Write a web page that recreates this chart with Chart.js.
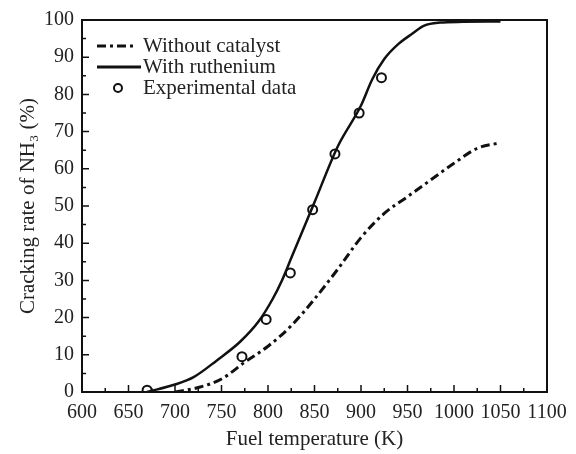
<!DOCTYPE html>
<html>
<head>
<meta charset="utf-8">
<script src="https://cdn.jsdelivr.net/npm/chart.js@4.4.1/dist/chart.umd.min.js"></script>
<style>
  html, body { margin: 0; padding: 0; background: #fff; }
  #wrap { width: 576px; height: 454px; }
</style>
</head>
<body>
<div id="wrap"><canvas id="chart" width="576" height="454"></canvas></div>
<script>
// --- data ---
const tempNoCat = [700, 725, 750, 775, 800, 825, 850, 875, 900, 925, 950, 975, 1000, 1025, 1050];
const rateNoCat = [0, 1.2, 3.5, 8, 12.3, 17.8, 25, 33, 41.5, 48, 52.5, 57, 61.5, 65.5, 67];

const tempRu = [670, 700, 720, 745, 770, 790, 805, 815, 825, 850, 875, 900, 912, 925, 940, 955, 968, 985, 1010, 1050];
const rateRu = [0, 2, 4, 8.5, 13.5, 19, 25, 30, 36, 51, 66, 77, 84, 89.5, 93.5, 96.3, 98.5, 99.3, 99.5, 99.6];

const tempExp = [670, 772, 798, 824, 848, 872, 898, 922];
const rateExp = [0.5, 9.5, 19.5, 32, 49, 64, 75, 84.5];

const xTicks = [600, 650, 700, 750, 800, 850, 900, 950, 1000, 1050, 1100];
const yTicks = [0, 10, 20, 30, 40, 50, 60, 70, 80, 90, 100];

const FONT = "'Liberation Serif', 'Times New Roman', serif";
const toXY = (xs, ys) => xs.map((x, i) => ({ x, y: ys[i] }));

// frame + inward ticks
const framePlugin = {
  id: 'frame',
  afterDraw(chart) {
    const { ctx, chartArea: a, scales: { x, y } } = chart;
    ctx.save();
    ctx.strokeStyle = '#111';
    ctx.lineWidth = 2;
    ctx.strokeRect(a.left, a.top, a.right - a.left, a.bottom - a.top);
    ctx.lineWidth = 1.5;
    ctx.beginPath();
    for (let v = xTicks[0]; v <= xTicks[xTicks.length - 1]; v += 25) {
      const px = x.getPixelForValue(v);
      const len = v % 50 === 0 ? 7 : 4;
      ctx.moveTo(px, a.bottom);
      ctx.lineTo(px, a.bottom - len);
    }
    for (let v = yTicks[0]; v <= yTicks[yTicks.length - 1]; v += 5) {
      const py = y.getPixelForValue(v);
      const len = v % 10 === 0 ? 7 : 4;
      ctx.moveTo(a.left, py);
      ctx.lineTo(a.left + len, py);
    }
    ctx.stroke();
    ctx.restore();
  }
};

// legend inside the plot, top left
const legendPlugin = {
  id: 'innerLegend',
  afterDraw(chart) {
    const { ctx } = chart;
    const rows = [
      { label: 'Without catalyst', kind: 'dash', y: 46 },
      { label: 'With ruthenium', kind: 'solid', y: 67 },
      { label: 'Experimental data', kind: 'circle', y: 88 }
    ];
    ctx.save();
    ctx.font = '21px ' + FONT;
    ctx.fillStyle = '#222';
    ctx.textBaseline = 'middle';
    rows.forEach(r => {
      ctx.strokeStyle = '#111';
      if (r.kind === 'circle') {
        ctx.lineWidth = 2;
        ctx.beginPath();
        ctx.arc(118, r.y, 4, 0, Math.PI * 2);
        ctx.fillStyle = '#fff';
        ctx.fill();
        ctx.stroke();
        ctx.fillStyle = '#222';
      } else {
        ctx.lineWidth = 3;
        ctx.setLineDash(r.kind === 'dash' ? [9, 4, 3, 4] : []);
        ctx.beginPath();
        ctx.moveTo(97, r.y);
        ctx.lineTo(r.kind === 'dash' ? 134 : 141, r.y);
        ctx.stroke();
        ctx.setLineDash([]);
      }
      ctx.fillText(r.label, 143, r.y);
    });
    ctx.restore();
  }
};

new Chart(document.getElementById('chart'), {
  type: 'line',
  data: {
    datasets: [
      {
        label: 'Without catalyst',
        data: toXY(tempNoCat, rateNoCat),
        borderColor: '#111',
        borderWidth: 3,
        borderDash: [9, 4, 3, 4],
        pointRadius: 0,
        cubicInterpolationMode: 'monotone',
        fill: false
      },
      {
        label: 'With ruthenium',
        data: toXY(tempRu, rateRu),
        borderColor: '#111',
        borderWidth: 2.5,
        pointRadius: 0,
        cubicInterpolationMode: 'monotone',
        fill: false
      },
      {
        label: 'Experimental data',
        data: toXY(tempExp, rateExp),
        showLine: false,
        pointRadius: 4.5,
        pointBorderWidth: 2,
        pointBorderColor: '#111',
        pointBackgroundColor: '#fff'
      }
    ]
  },
  options: {
    responsive: false,
    animation: false,
    layout: { padding: { left: 0, top: 19, right: 29, bottom: 0 } },
    plugins: {
      legend: { display: false },
      tooltip: { enabled: false }
    },
    scales: {
      x: {
        type: 'linear',
        min: 600,
        max: 1100,
        afterBuildTicks: s => { s.ticks = xTicks.map(v => ({ value: v })); },
        afterFit: s => { s.height = 62; },
        grid: { display: false, drawTicks: false },
        border: { display: false },
        ticks: {
          color: '#222', padding: 9, maxRotation: 0, minRotation: 0, autoSkip: false,
          font: { family: FONT, size: 20 },
          callback: v => String(v)
        },
        title: {
          display: true,
          text: 'Fuel temperature (K)',
          color: '#222',
          font: { family: FONT, size: 21 },
          padding: { top: 4, bottom: 2 }
        }
      },
      y: {
        min: 0,
        max: 100,
        afterBuildTicks: s => { s.ticks = yTicks.map(v => ({ value: v })); },
        afterFit: s => { s.width = 82; },
        grid: { display: false, drawTicks: false },
        border: { display: false },
        ticks: {
          color: '#222', padding: 8, font: { family: FONT, size: 20 },
          callback: v => String(v)
        },
        title: {
          display: true,
          text: 'Cracking rate of NH₃ (%)',
          color: '#222',
          font: { family: FONT, size: 21 },
          padding: { top: 16, bottom: 4 }
        }
      }
    }
  },
  plugins: [framePlugin, legendPlugin]
});
</script>
</body>
</html>
